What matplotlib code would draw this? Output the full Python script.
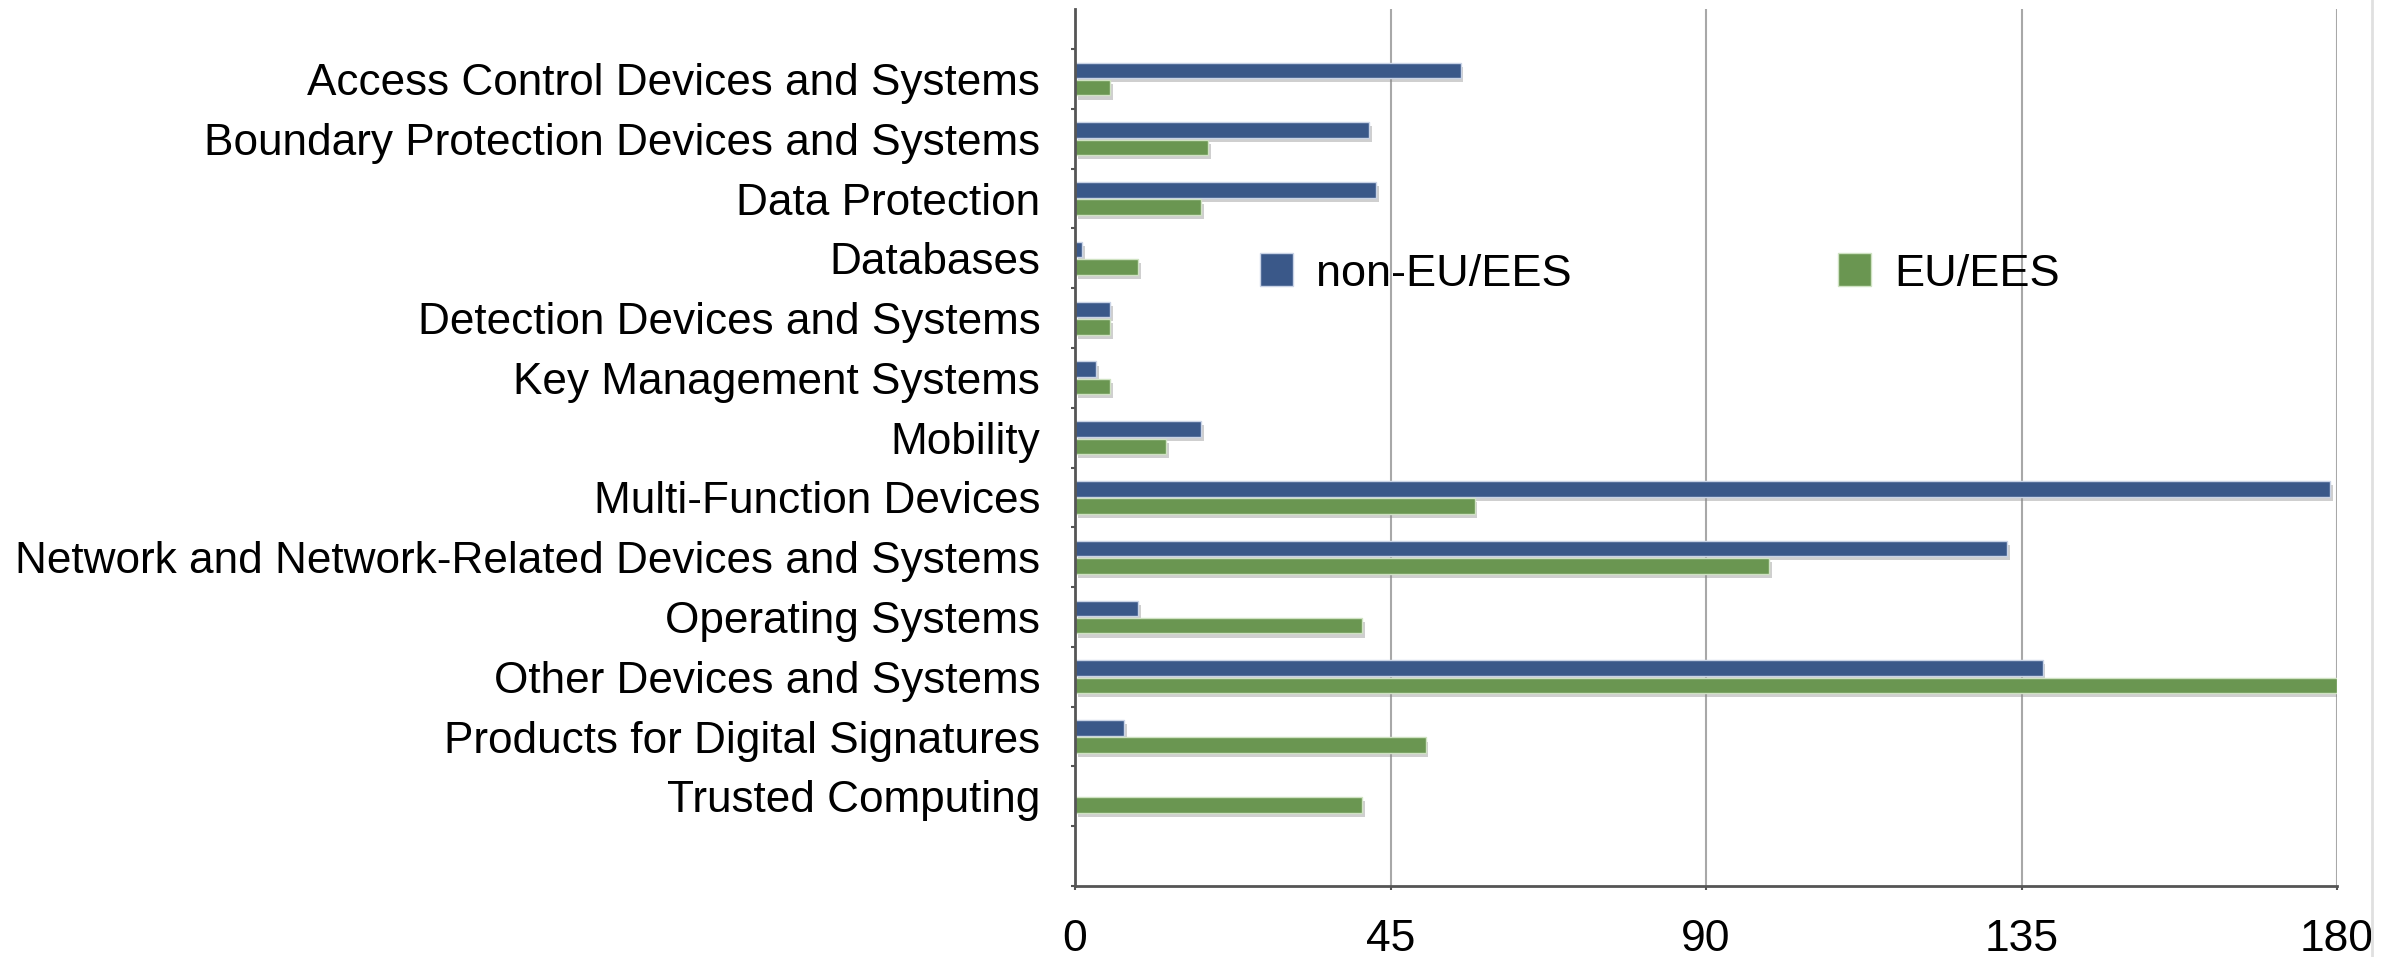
import matplotlib
matplotlib.use("Agg")
import matplotlib.pyplot as plt
from matplotlib.patches import Patch
from matplotlib.lines import Line2D
import matplotlib.patheffects as pe
import numpy as np

categories = [
    "Access Control Devices and Systems",
    "Boundary Protection Devices and Systems",
    "Data Protection",
    "Databases",
    "Detection Devices and Systems",
    "Key Management Systems",
    "Mobility",
    "Multi-Function Devices",
    "Network and Network-Related Devices and Systems",
    "Operating Systems",
    "Other Devices and Systems",
    "Products for Digital Signatures",
    "Trusted Computing",
]
non_eu = [55, 42, 43, 1, 5, 3, 18, 179, 133, 9, 138, 7, 0]
eu = [5, 19, 18, 9, 5, 5, 13, 57, 99, 41, 180, 50, 41]
xticks = [0, 45, 90, 135, 180]
series_labels = ["non-EU/EES", "EU/EES"]

BLUE = "#3A5889"
GREEN = "#6A9651"
FONT = "Liberation Sans"

plt.rcParams["font.family"] = [FONT, "DejaVu Sans"]

W, H = 2397, 957
fig = plt.figure(figsize=(W / 100, H / 100), dpi=100)
fig.patch.set_facecolor("white")
ax = fig.add_axes([1075 / W, 1 - 886 / H, (2337 - 1075) / W, (886 - 9) / H])

y = np.arange(len(categories))
h = 0.26
off = 0.145
shadow = [pe.SimplePatchShadow(offset=(2, -3), shadow_rgbFace="#888888", alpha=0.4), pe.Normal()]

b1 = ax.barh(y - off, non_eu, height=h, color=BLUE, edgecolor="#c9d3e6", linewidth=1.0, zorder=3)
b2 = ax.barh(y + off, eu, height=h, color=GREEN, edgecolor="#cfe2c2", linewidth=1.0, zorder=3)
for cont, vals in ((b1, non_eu), (b2, eu)):
    for p, v in zip(cont.patches, vals):
        if v == 0:
            p.set_visible(False)
        else:
            p.set_path_effects(shadow)

ax.set_xlim(0, 180)
ax.set_ylim(13.5, -1.17)

ax.set_xticks(xticks)
ax.set_xticklabels([str(t) for t in xticks])
ax.set_yticks(y)
ax.set_yticklabels(categories)
ax.set_yticks(np.arange(-0.5, 13.6, 1.0), minor=True)

ax.tick_params(axis="y", which="major", length=0, pad=25, labelsize=31.8)
ax.tick_params(axis="y", which="minor", length=3, width=1.5, color="#555555", direction="out")
ax.tick_params(axis="x", which="major", length=3, width=1.5, color="#555555", pad=21, labelsize=32)

ax.grid(axis="x", color="#a8a8a8", linewidth=1.5, zorder=0)
ax.set_axisbelow(True)
for s in ("top", "right"):
    ax.spines[s].set_visible(False)
for s in ("left", "bottom"):
    ax.spines[s].set_color("#555555")
    ax.spines[s].set_linewidth(2)
    ax.spines[s].set_zorder(4)

handles = [
    Patch(facecolor=BLUE, edgecolor="#c9d3e6", linewidth=1, label=series_labels[0]),
    Patch(facecolor=GREEN, edgecolor="#cfe2c2", linewidth=1, label=series_labels[1]),
]
leg = fig.legend(
    handles=handles, loc="center left", bbox_to_anchor=(1260 / W, 1 - 274 / H),
    bbox_transform=fig.transFigure, ncol=2, frameon=False, fontsize=32.5,
    handlelength=0.73, handleheight=0.73, handletextpad=0.51, columnspacing=5.9,
    borderpad=0, borderaxespad=0,
)

fig.add_artist(Line2D([2372 / W, 2372 / W], [0, 1], transform=fig.transFigure, color="#e0e0e0", linewidth=2))

fig.savefig("out.png", dpi=100, facecolor="white")
